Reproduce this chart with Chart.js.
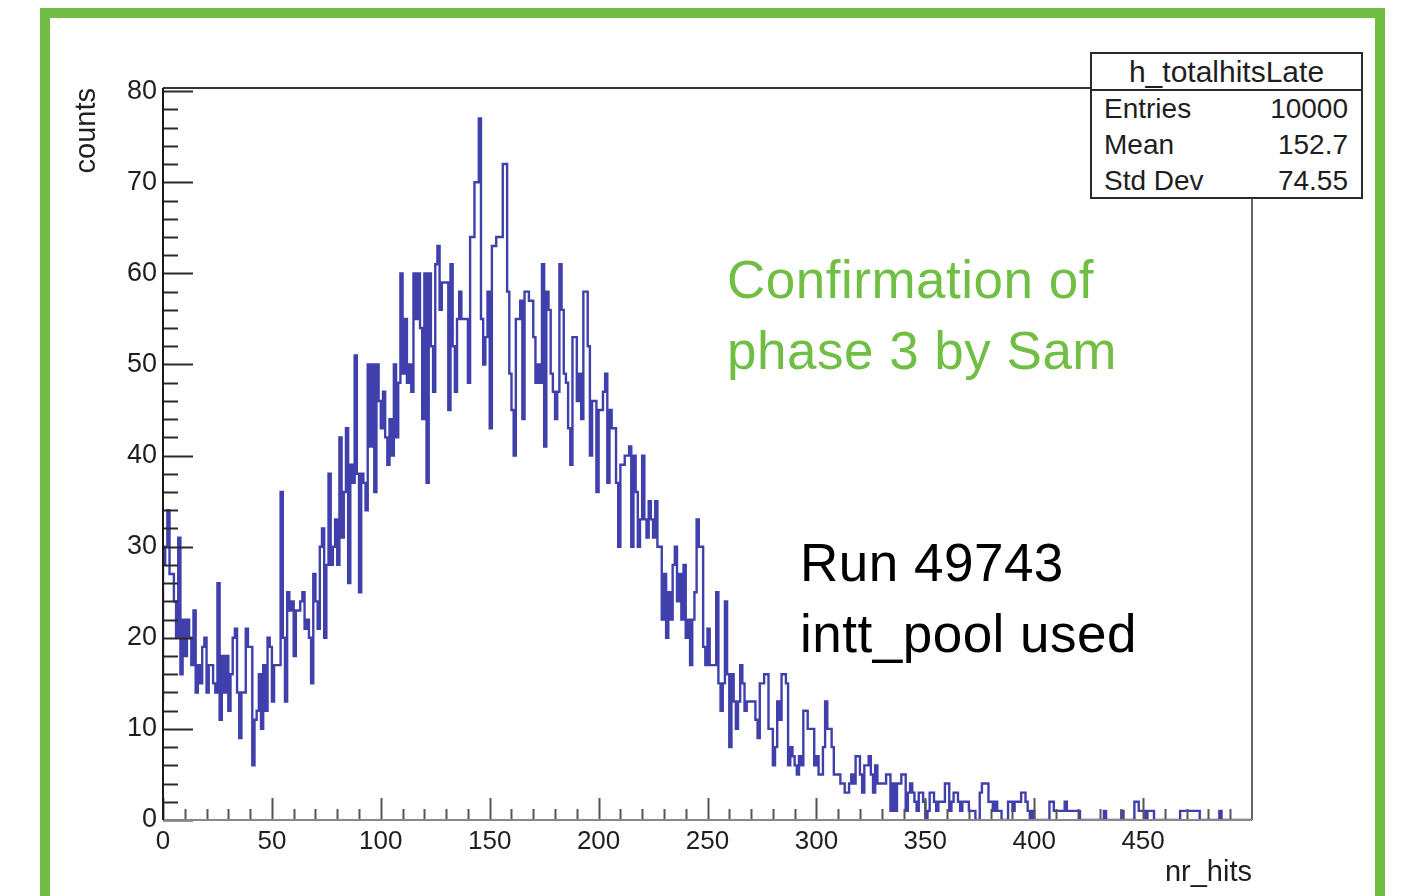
<!DOCTYPE html>
<html>
<head>
<meta charset="utf-8">
<title>h_totalhitsLate</title>
<script src="https://cdn.jsdelivr.net/npm/chart.js@4.4.1/dist/chart.umd.min.js"></script>
<style>
  html, body { margin: 0; padding: 0; background: #fff; }
  #wrap { position: relative; width: 1408px; height: 896px; overflow: hidden; background: #fff; }
  #border { position: absolute; left: 40px; top: 8px; width: 1345px; height: 1000px; box-sizing: border-box; border: 10px solid #70bf44; }
  #plot { position: absolute; left: 0; top: 0; }
  .note { position: absolute; font-family: "Liberation Sans", Arial, sans-serif; font-size: 53px; line-height: 71px; letter-spacing: 0.5px; white-space: nowrap; }
  #confirm { left: 727px; top: 244px; color: #70bf44; }
  #runinfo { left: 800px; top: 527px; color: #000; }
  #stats { position: absolute; left: 1090px; top: 52px; width: 273px; height: 147px; box-sizing: border-box;
           border: 2px solid #2a2a2a; background: #fff; font-family: "Liberation Sans", Arial, sans-serif; color: #1e1e1e; }
  #stats .title { height: 35px; line-height: 35px; font-size: 30px; text-align: center; border-bottom: 2px solid #2a2a2a; }
  #stats .row { display: flex; justify-content: space-between; height: 36px; line-height: 36px; font-size: 28px; padding: 0 13px 0 12px; }
</style>
</head>
<body>
<div id="wrap">
  <div id="border"></div>
  <canvas id="plot" width="1408" height="896"></canvas>
  <div id="stats"></div>
  <div class="note" id="confirm"></div>
  <div class="note" id="runinfo"></div>
</div>
<script>
// nr_hits histogram, 500 bins of width 1 from 0 to 500
const binCounts = [
  13,28,30,34,27,27,24,20,31,16,22,18,22,20,17,23,14,17,15,19,   // 0
  20,14,17,17,15,14,26,11,18,14,18,12,16,20,21,14,9,14,14,21,    // 20
  19,19,6,11,12,16,10,17,12,20,19,13,17,17,17,36,20,13,25,23,    // 40
  24,18,23,23,24,25,21,22,20,15,27,24,21,30,32,20,28,38,28,30,   // 60
  33,28,42,31,36,43,26,39,37,51,38,25,38,37,34,50,41,50,36,50,   // 80
  46,43,47,42,39,44,40,50,42,48,60,49,55,48,50,47,60,55,60,54,   // 100
  44,60,37,60,52,47,61,63,56,59,59,59,45,61,52,47,55,58,55,55,   // 120
  55,48,64,64,70,70,77,55,50,53,58,43,63,63,64,64,64,72,72,58,   // 140
  49,45,40,55,55,57,44,58,58,57,57,53,48,50,48,61,41,58,56,49,   // 160
  47,44,47,61,56,49,48,43,39,53,53,46,49,44,58,58,52,40,46,46,   // 180
  36,45,45,47,49,37,45,43,43,37,30,39,39,40,40,41,30,40,36,30,   // 200
  33,40,33,31,35,33,31,35,30,30,22,27,20,25,22,28,30,24,27,22,   // 220
  28,20,22,17,22,25,33,30,30,19,17,21,17,17,17,25,15,12,15,24,   // 240
  16,8,16,13,10,13,17,15,12,13,13,13,13,11,9,15,15,16,16,10,     // 260
  10,6,8,13,11,16,16,15,6,8,7,6,5,7,6,12,12,10,10,10,            // 280
  6,7,5,5,8,13,10,10,8,5,5,5,4,4,3,3,4,5,4,7,                    // 300
  7,5,3,6,6,7,5,3,6,4,4,4,4,5,5,1,4,1,4,4,                       // 320
  5,5,1,3,4,3,2,1,3,3,2,0,1,3,3,2,1,2,2,2,                       // 340
  4,4,1,2,3,3,2,1,2,2,2,1,1,1,0,0,3,4,4,4,                       // 360
  2,2,1,2,1,1,0,0,0,2,2,1,2,2,2,3,3,2,1,0,                       // 380
  1,0,0,0,0,0,0,0,2,2,1,1,1,1,1,2,1,1,1,1,                       // 400
  1,1,0,0,0,0,0,0,0,0,0,0,0,1,0,0,0,0,0,0,                       // 420
  0,1,0,0,0,0,0,2,2,1,1,1,0,1,1,1,0,0,0,0,                       // 440
  0,0,0,0,0,0,0,0,1,1,1,1,1,1,1,1,1,0,0,0,                       // 460
  0,0,0,0,0,0,1,0,0,0,0,0,0,0,0,0,0,0,0,0                        // 480
];
const binLow = 0;
const binWidth = 1;

const xTickValues = [0, 50, 100, 150, 200, 250, 300, 350, 400, 450];
const yTickValues = [0, 10, 20, 30, 40, 50, 60, 70, 80];

const histName = "h_totalhitsLate";
const statLabels = ["Entries", "Mean", "Std Dev"];
const statValues = ["10000", "152.7", "74.55"];

const noteGreen = ["Confirmation of", "phase 3 by Sam"];
const noteBlack = ["Run 49743", "intt_pool used"];

/* ===== stats box + notes ===== */
const stats = document.getElementById("stats");
stats.innerHTML = `<div class="title">${histName}</div>` +
  statLabels.map((s, i) => `<div class="row"><span>${s}</span><span>${statValues[i]}</span></div>`).join("");
document.getElementById("confirm").innerHTML = noteGreen.join("<br>");
document.getElementById("runinfo").innerHTML = noteBlack.join("<br>");

/* ===== step outline points: left edge of each bin, closing at the last edge ===== */
const points = binCounts.map((c, i) => ({ x: binLow + i * binWidth, y: c }));
points.push({ x: binLow + binCounts.length * binWidth, y: binCounts[binCounts.length - 1] });

const xMin = 0, xMax = 500;
const yMin = 0, yMax = 80.35;

// ROOT-style frame with inward ticks
const rootFrame = {
  id: "rootFrame",
  afterDatasetsDraw(chart) {
    const { ctx, chartArea: a, scales: { x, y } } = chart;
    ctx.save();
    ctx.lineWidth = 2;

    // y ticks: major every 10, minor every 2
    ctx.strokeStyle = "#2a2a2a";
    for (let v = 0; v <= 80; v += 2) {
      const py = Math.round(y.getPixelForValue(v)) + 0.5;
      const len = v % 10 === 0 ? 30 : 15;
      ctx.beginPath();
      ctx.moveTo(a.left, py);
      ctx.lineTo(a.left + len, py);
      ctx.stroke();
    }
    // x ticks: major every 50, minor every 10
    ctx.strokeStyle = "#555";
    for (let v = 0; v <= 490; v += 10) {
      const px = Math.round(x.getPixelForValue(v)) + 0.5;
      const len = v % 50 === 0 ? 22 : 11;
      ctx.beginPath();
      ctx.moveTo(px, a.bottom);
      ctx.lineTo(px, a.bottom - len);
      ctx.stroke();
    }

    // frame
    ctx.strokeStyle = "#333";
    ctx.beginPath(); ctx.moveTo(a.left, a.top); ctx.lineTo(a.right, a.top); ctx.stroke();
    ctx.strokeStyle = "#666";
    ctx.beginPath(); ctx.moveTo(a.right, a.top); ctx.lineTo(a.right, a.bottom); ctx.stroke();
    ctx.strokeStyle = "#888";
    ctx.beginPath(); ctx.moveTo(a.left, a.bottom); ctx.lineTo(a.right, a.bottom); ctx.stroke();
    ctx.strokeStyle = "#1a1a1a";
    ctx.beginPath(); ctx.moveTo(a.left, a.top); ctx.lineTo(a.left, a.bottom); ctx.stroke();
    ctx.restore();
  }
};

Chart.defaults.font.family = '"Liberation Sans", Arial, sans-serif';
Chart.defaults.color = "#1e1e1e";

new Chart(document.getElementById("plot"), {
  type: "line",
  data: {
    datasets: [{
      label: histName,
      data: points,
      stepped: "after",
      borderColor: "rgba(10, 10, 150, 0.78)",
      borderWidth: 2.4,
      pointRadius: 0,
      fill: false,
      tension: 0
    }]
  },
  options: {
    responsive: false,
    animation: false,
    events: [],
    layout: { padding: { left: 0, top: 88, right: 156, bottom: 0 } },
    plugins: { legend: { display: false }, tooltip: { enabled: false } },
    scales: {
      x: {
        type: "linear",
        min: xMin,
        max: xMax,
        afterBuildTicks: s => { s.ticks = xTickValues.map(v => ({ value: v })); },
        afterFit: s => { s.height = 76; },
        grid: { display: false, drawTicks: false },
        border: { display: false },
        ticks: { font: { size: 26 }, padding: 6, maxRotation: 0, autoSkip: false },
        title: { display: true, text: "nr_hits", align: "end", font: { size: 29 }, padding: { top: 0, bottom: 6 } }
      },
      y: {
        type: "linear",
        min: yMin,
        max: yMax,
        afterBuildTicks: s => { s.ticks = yTickValues.map(v => ({ value: v })); },
        afterFit: s => { s.width = 163; },
        grid: { display: false, drawTicks: false },
        border: { display: false },
        ticks: { font: { size: 27 }, padding: 6 },
        title: { display: true, text: "counts", align: "end", font: { size: 29 }, padding: { top: 70, bottom: 0 } }
      }
    }
  },
  plugins: [rootFrame]
});
</script>
</body>
</html>
